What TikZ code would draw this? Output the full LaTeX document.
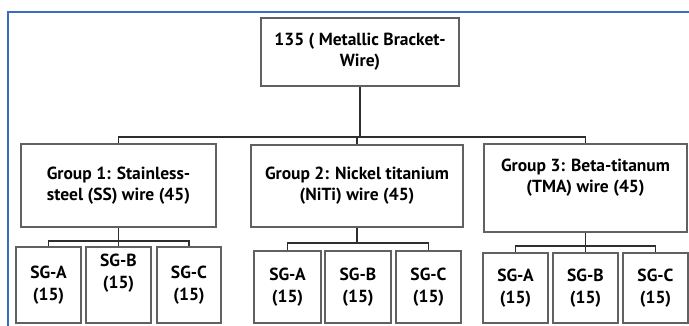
\documentclass[tikz,border=0pt]{standalone}
\usepackage{fontspec}
\setmainfont{PT Sans}
\begin{document}
\begin{tikzpicture}[x=1pt,y=-1pt,
  box/.style={draw=black!62, line width=1.3pt, fill=white, align=center,
    inner sep=0pt, font=\bfseries\fontsize{17.5}{21}\selectfont, anchor=center},
  sub/.style={box, font=\bfseries\fontsize{17.5}{22}\selectfont},
  conn/.style={draw=black!82, line width=1.5pt}]
\useasboundingbox (0,0) rectangle (689,325);
\fill[white] (0,0) rectangle (689,325);
% blue frame
\draw[draw={rgb,255:red,58;green,108;blue,196}, line width=1.4pt] (8,330) -- (8,12) -- (695,12);
% nodes
\node[box, minimum width=198pt, minimum height=68pt] (top) at (360,52) {135 ( Metallic Bracket-\\Wire)};
\node[box, minimum width=195pt, minimum height=83pt] (g1) at (118.5,185.5) {Group 1: Stainless-\\steel (SS) wire (45)};
\node[box, minimum width=212pt, minimum height=82pt] (g2) at (357,186) {Group 2: Nickel titanium\\(NiTi) wire (45)};
\node[box, minimum width=203pt, minimum height=88pt] (g3) at (585.5,188) {Group 3: Beta-titanum\\(TMA) wire (45)\\[4pt]};
% subgroups of group 1
\node[sub, minimum width=65pt, minimum height=76pt] (g1a) at (48.5,285) {SG-A\\(15)};
\node[sub, minimum width=65pt, minimum height=76pt] (g1b) at (118.5,285) {SG-B\\(15)\\[6pt]};
\node[sub, minimum width=64pt, minimum height=76pt] (g1c) at (189,285) {SG-C\\(15)};
% subgroups of group 2
\node[sub, minimum width=67pt, minimum height=72pt] (g2a) at (287.5,287) {SG-A\\(15)};
\node[sub, minimum width=66pt, minimum height=72pt] (g2b) at (358,287) {SG-B\\(15)};
\node[sub, minimum width=65pt, minimum height=72pt] (g2c) at (428.5,287) {SG-C\\(15)};
% subgroups of group 3
\node[sub, minimum width=65pt, minimum height=70pt] (g3a) at (515.5,288) {SG-A\\(15)};
\node[sub, minimum width=65pt, minimum height=70pt] (g3b) at (585.5,288) {SG-B\\(15)};
\node[sub, minimum width=65pt, minimum height=70pt] (g3c) at (655.5,288) {SG-C\\(15)};
% connectors
\coordinate (bus) at (118.5,137);
\draw[conn] (g1.north) -- (bus) -| (g3.north);
\draw[conn] (top.south) -- (top.south |- bus);
\draw[conn] (g2.north) -- (g2.north |- bus);
\coordinate (b1) at (118.5,241);
\draw[conn] (g1a.north) |- (b1) -| (g1c.north);
\draw[conn] (g1.south) -- (g1b.north);
\coordinate (b2) at (357,243);
\draw[conn] (g2a.north) |- (b2) -| (g2c.north);
\draw[conn] (g2.south) -- (b2);
\coordinate (b3) at (585.5,246);
\draw[conn] (g3a.north) |- (b3) -| (g3c.north);
\draw[conn] (g3.south) -- (g3b.north);
\end{tikzpicture}
\end{document}
